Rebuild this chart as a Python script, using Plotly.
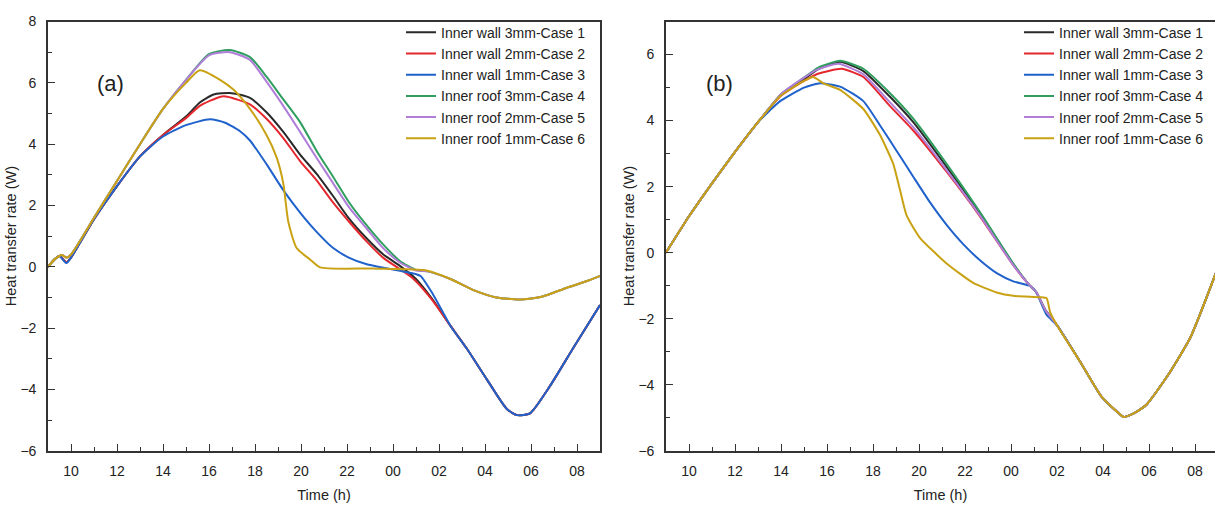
import plotly.graph_objects as go

names = ["Inner wall 3mm-Case 1", "Inner wall 2mm-Case 2", "Inner wall 1mm-Case 3",
         "Inner roof 3mm-Case 4", "Inner roof 2mm-Case 5", "Inner roof 1mm-Case 6"]
colors = ["#2a2a2a", "#e4282e", "#2062cc", "#2f9e5e", "#b07dd8", "#c9a214"]

# hours since midnight of day 1 (values > 24 are the next day)
# ---------------- panel (a) ----------------
a_t1 = [9, 9.3, 9.5, 9.8, 10, 11, 12, 13, 14, 15, 15.6, 16.2, 16.9, 17.78, 18.5, 19.23, 19.96, 20.68, 21.4, 22.1, 22.86, 23.58, 24.3, 25.0, 25.7, 26.5, 27.2, 28.1, 28.96, 29.4, 29.96, 30.8, 31.83, 33]
a_v1 = [0, 0.25, 0.35, 0.15, 0.3, 1.55, 2.63, 3.6, 4.3, 4.9, 5.36, 5.62, 5.67, 5.51, 5.04, 4.4, 3.66, 3.03, 2.3, 1.56, 0.92, 0.4, 0.03, -0.4, -1.05, -1.93, -2.66, -3.7, -4.65, -4.84, -4.78, -3.92, -2.66, -1.25]
a_t2 = [9, 9.3, 9.5, 9.8, 10, 11, 12, 13, 14, 15, 15.6, 16.5, 16.8, 17.78, 18.5, 19.23, 19.96, 20.68, 21.4, 22.1, 22.86, 23.58, 24.3, 24.87, 25.7, 26.5, 27.2, 28.1, 28.96, 29.4, 29.96, 30.8, 31.83, 33]
a_v2 = [0, 0.25, 0.35, 0.15, 0.3, 1.55, 2.63, 3.6, 4.3, 4.85, 5.25, 5.55, 5.55, 5.3, 4.83, 4.2, 3.45, 2.82, 2.09, 1.46, 0.82, 0.29, -0.08, -0.38, -1.08, -1.93, -2.66, -3.7, -4.65, -4.84, -4.78, -3.92, -2.66, -1.25]
a_t3 = [9, 9.3, 9.5, 9.8, 10, 11, 12, 13, 14, 15, 16.04, 16.7, 17.35, 17.78, 18.5, 19.23, 19.96, 20.68, 21.4, 22.1, 22.86, 23.58, 24.3, 25.0, 25.2, 25.7, 26.5, 27.2, 28.1, 28.96, 29.4, 29.96, 30.8, 31.83, 33]
a_v3 = [0, 0.25, 0.35, 0.12, 0.3, 1.55, 2.63, 3.6, 4.25, 4.62, 4.81, 4.7, 4.42, 4.12, 3.35, 2.5, 1.77, 1.14, 0.61, 0.29, 0.08, -0.03, -0.13, -0.24, -0.3, -0.85, -1.93, -2.66, -3.7, -4.65, -4.84, -4.78, -3.92, -2.66, -1.25]
a_t4 = [9, 9.3, 9.6, 9.8, 10, 11, 12, 13, 14, 15, 16, 16.9, 17.78, 18.5, 19.23, 19.96, 20.68, 21.4, 22.1, 22.86, 23.58, 24.3, 25.0, 25.5, 26.5, 27.5, 28.5, 29.5, 30.5, 31.5, 32.5, 33]
a_v4 = [0, 0.25, 0.38, 0.3, 0.4, 1.6, 2.8, 4.0, 5.15, 6.1, 6.94, 7.07, 6.84, 6.2, 5.46, 4.72, 3.78, 2.93, 2.09, 1.35, 0.72, 0.19, -0.1, -0.15, -0.4, -0.76, -1.0, -1.07, -0.97, -0.7, -0.45, -0.3]
a_t5 = [9, 9.3, 9.6, 9.8, 10, 11, 12, 13, 14, 15, 16, 16.9, 17.78, 18.5, 19.23, 19.96, 20.68, 21.4, 22.1, 22.86, 23.58, 24.3, 25.0, 25.5, 26.5, 27.5, 28.5, 29.5, 30.5, 31.5, 32.5, 33]
a_v5 = [0, 0.25, 0.38, 0.3, 0.4, 1.6, 2.8, 4.0, 5.15, 6.1, 6.9, 7.0, 6.75, 6.04, 5.25, 4.4, 3.55, 2.72, 1.93, 1.24, 0.6, 0.14, -0.12, -0.15, -0.4, -0.76, -1.0, -1.07, -0.97, -0.7, -0.45, -0.3]
a_t6 = [9, 9.3, 9.6, 9.8, 10, 11, 12, 13, 14, 15, 15.6, 16.48, 17.06, 17.78, 18.5, 18.94, 19.23, 19.45, 19.81, 20.39, 20.83, 23.1, 25.5, 26.5, 27.5, 28.5, 29.5, 30.5, 31.5, 32.5, 33]
a_v6 = [0, 0.25, 0.38, 0.3, 0.4, 1.6, 2.8, 4.0, 5.15, 6.0, 6.41, 6.1, 5.78, 5.15, 4.3, 3.57, 2.72, 1.46, 0.61, 0.24, -0.02, -0.06, -0.13, -0.4, -0.76, -1.0, -1.07, -0.97, -0.7, -0.45, -0.3]

# ---------------- panel (b) ----------------
b_t1 = [9, 10, 11, 12, 13, 14, 15, 15.6, 16.57, 17.58, 18.74, 19.75, 21.2, 22.65, 24.1, 24.83, 25.1, 25.5, 26, 27, 27.9, 28.5, 28.9, 29.4, 29.9, 30.8, 31.8, 33]
b_v1 = [0, 1.1, 2.1, 3.05, 3.95, 4.78, 5.25, 5.55, 5.78, 5.5, 4.72, 3.95, 2.6, 1.18, -0.35, -1.01, -1.2, -1.75, -2.2, -3.3, -4.33, -4.75, -4.98, -4.85, -4.6, -3.74, -2.57, -0.45]
b_t2 = [9, 10, 11, 12, 13, 14, 15, 15.6, 16.64, 17.58, 18.74, 19.75, 21.2, 22.65, 24.1, 24.83, 25.1, 25.5, 26, 27, 27.9, 28.5, 28.9, 29.4, 29.9, 30.8, 31.8, 33]
b_v2 = [0, 1.1, 2.1, 3.05, 3.95, 4.75, 5.2, 5.42, 5.57, 5.32, 4.44, 3.7, 2.45, 1.1, -0.38, -1.01, -1.2, -1.75, -2.2, -3.3, -4.33, -4.75, -4.98, -4.85, -4.6, -3.74, -2.57, -0.45]
b_t3 = [9, 10, 11, 12, 13, 13.5, 13.96, 15, 15.7, 16.57, 17.58, 18.3, 19.03, 19.75, 20.48, 21.2, 21.93, 22.65, 23.38, 24.1, 24.83, 25.1, 25.55, 26, 27, 27.9, 28.5, 28.9, 29.4, 29.9, 30.8, 31.8, 33]
b_v3 = [0, 1.1, 2.1, 3.05, 3.95, 4.3, 4.59, 5.0, 5.13, 5.03, 4.59, 3.86, 3.08, 2.3, 1.52, 0.84, 0.25, -0.23, -0.62, -0.87, -1.01, -1.21, -1.89, -2.2, -3.3, -4.33, -4.75, -4.98, -4.85, -4.6, -3.74, -2.57, -0.45]
b_t4 = [9, 10, 11, 12, 13, 14, 15, 15.6, 16.57, 17.58, 18.74, 19.75, 21.2, 22.65, 24.1, 24.83, 25.1, 25.5, 26, 27, 27.9, 28.5, 28.9, 29.4, 29.9, 30.8, 31.8, 33]
b_v4 = [0, 1.1, 2.1, 3.05, 3.95, 4.8, 5.3, 5.6, 5.81, 5.57, 4.83, 4.06, 2.69, 1.23, -0.33, -1.01, -1.2, -1.75, -2.2, -3.3, -4.33, -4.75, -4.98, -4.85, -4.6, -3.74, -2.57, -0.45]
b_t5 = [9, 10, 11, 12, 13, 14, 15, 15.6, 16.5, 17.58, 18.74, 19.75, 21.2, 22.65, 24.1, 24.83, 25.1, 25.5, 26, 27, 27.9, 28.5, 28.9, 29.4, 29.9, 30.8, 31.8, 33]
b_v5 = [0, 1.1, 2.1, 3.05, 3.95, 4.8, 5.3, 5.55, 5.72, 5.4, 4.55, 3.8, 2.5, 1.12, -0.38, -1.01, -1.2, -1.75, -2.2, -3.3, -4.33, -4.75, -4.98, -4.85, -4.6, -3.74, -2.57, -0.45]
b_t6 = [9, 10, 11, 12, 13, 13.96, 15, 15.4, 15.84, 16.57, 17.58, 18.3, 18.88, 19.17, 19.46, 20.04, 21.2, 22.36, 23.38, 24.1, 25.26, 25.55, 25.7, 26, 27, 27.9, 28.5, 28.9, 29.4, 29.9, 30.8, 31.8, 33]
b_v6 = [0, 1.1, 2.1, 3.05, 3.95, 4.74, 5.2, 5.32, 5.13, 4.93, 4.35, 3.57, 2.69, 1.91, 1.13, 0.45, -0.33, -0.92, -1.21, -1.31, -1.35, -1.38, -1.8, -2.2, -3.3, -4.33, -4.75, -4.98, -4.85, -4.6, -3.74, -2.57, -0.45]

x_tick_vals = [10, 12, 14, 16, 18, 20, 22, 24, 26, 28, 30, 32]
x_tick_text = ["10", "12", "14", "16", "18", "20", "22", "00", "02", "04", "06", "08"]
x_minor_vals = [9, 11, 13, 15, 17, 19, 21, 23, 25, 27, 29, 31, 33]

a_series = [(a_t1, a_v1), (a_t2, a_v2), (a_t3, a_v3), (a_t4, a_v4), (a_t5, a_v5), (a_t6, a_v6)]
b_series = [(b_t1, b_v1), (b_t2, b_v2), (b_t3, b_v3), (b_t4, b_v4), (b_t5, b_v5), (b_t6, b_v6)]

FONT = "Liberation Sans, Arial, sans-serif"
fig = go.Figure()
for i, (t, v) in enumerate(a_series):
    fig.add_trace(go.Scatter(x=t, y=v, mode="lines", name=names[i],
                             line=dict(color=colors[i], width=2, shape="spline", smoothing=0.6),
                             xaxis="x", yaxis="y", legend="legend"))
for i, (t, v) in enumerate(b_series):
    fig.add_trace(go.Scatter(x=t, y=v, mode="lines", name=names[i],
                             line=dict(color=colors[i], width=2, shape="spline", smoothing=0.5),
                             xaxis="x2", yaxis="y2", legend="legend2"))

W, H = 1215, 510
def px(x):
    return x / W
def py(y):
    return 1 - y / H

axcol = "#333333"
common_x = dict(showgrid=False, zeroline=False, showline=True, linecolor=axcol, linewidth=1.6,
                ticks="inside", ticklen=7, tickwidth=1.4, tickcolor=axcol,
                tickmode="array", tickvals=x_tick_vals, ticktext=x_tick_text,
                minor=dict(tickmode="array", tickvals=x_minor_vals, ticks="inside", ticklen=4,
                           tickwidth=1.2, tickcolor=axcol),
                ticklabelstandoff=7,
                tickfont=dict(family=FONT, size=14, color="#222"),
                title=dict(text="Time (h)", font=dict(family=FONT, size=14.5, color="#222"), standoff=12))
common_y = dict(showgrid=False, zeroline=False, showline=True, linecolor=axcol, linewidth=1.6,
                ticks="inside", ticklen=7, tickwidth=1.4, tickcolor=axcol,
                dtick=2, tick0=0,
                minor=dict(dtick=1, ticks="inside", ticklen=4, tickwidth=1.2, tickcolor=axcol),
                ticklabelstandoff=7,
                tickfont=dict(family=FONT, size=14, color="#222"),
                title=dict(text="Heat transfer rate (W)", font=dict(family=FONT, size=14.5, color="#222"), standoff=0))

fig.update_layout(
    width=W, height=H, margin=dict(l=0, r=0, t=0, b=0),
    paper_bgcolor="white", plot_bgcolor="white",
    font=dict(family=FONT, color="#222"),
    xaxis=dict(common_x, domain=[px(48), px(600)], range=[9, 33], mirror=True, anchor="y"),
    yaxis=dict(common_y, domain=[py(457), py(14)], range=[-6, 8], mirror=True, anchor="x"),
    xaxis2=dict(common_x, domain=[px(666), 1.0], range=[9, 9 + (W - 666) / 23], mirror=True, anchor="y2"),
    yaxis2=dict(common_y, domain=[py(457), py(14)], range=[-6, 7], mirror=False, anchor="x2"),
    legend=dict(x=px(401), y=py(9), xanchor="left", yanchor="top", bgcolor="rgba(0,0,0,0)",
                font=dict(family=FONT, size=14, color="#222"), tracegroupgap=0, itemwidth=30),
    legend2=dict(x=px(1019), y=py(9), xanchor="left", yanchor="top", bgcolor="rgba(0,0,0,0)",
                 font=dict(family=FONT, size=14, color="#222"), tracegroupgap=0, itemwidth=30),
    showlegend=True,
    annotations=[
        dict(text="(a)", x=px(95), y=py(63), xref="paper", yref="paper", showarrow=False,
             font=dict(family=FONT, size=22, color="#222")),
        dict(text="(b)", x=px(719), y=py(63), xref="paper", yref="paper", showarrow=False,
             font=dict(family=FONT, size=22, color="#222")),
    ],
)

fig.write_html("out.html")
